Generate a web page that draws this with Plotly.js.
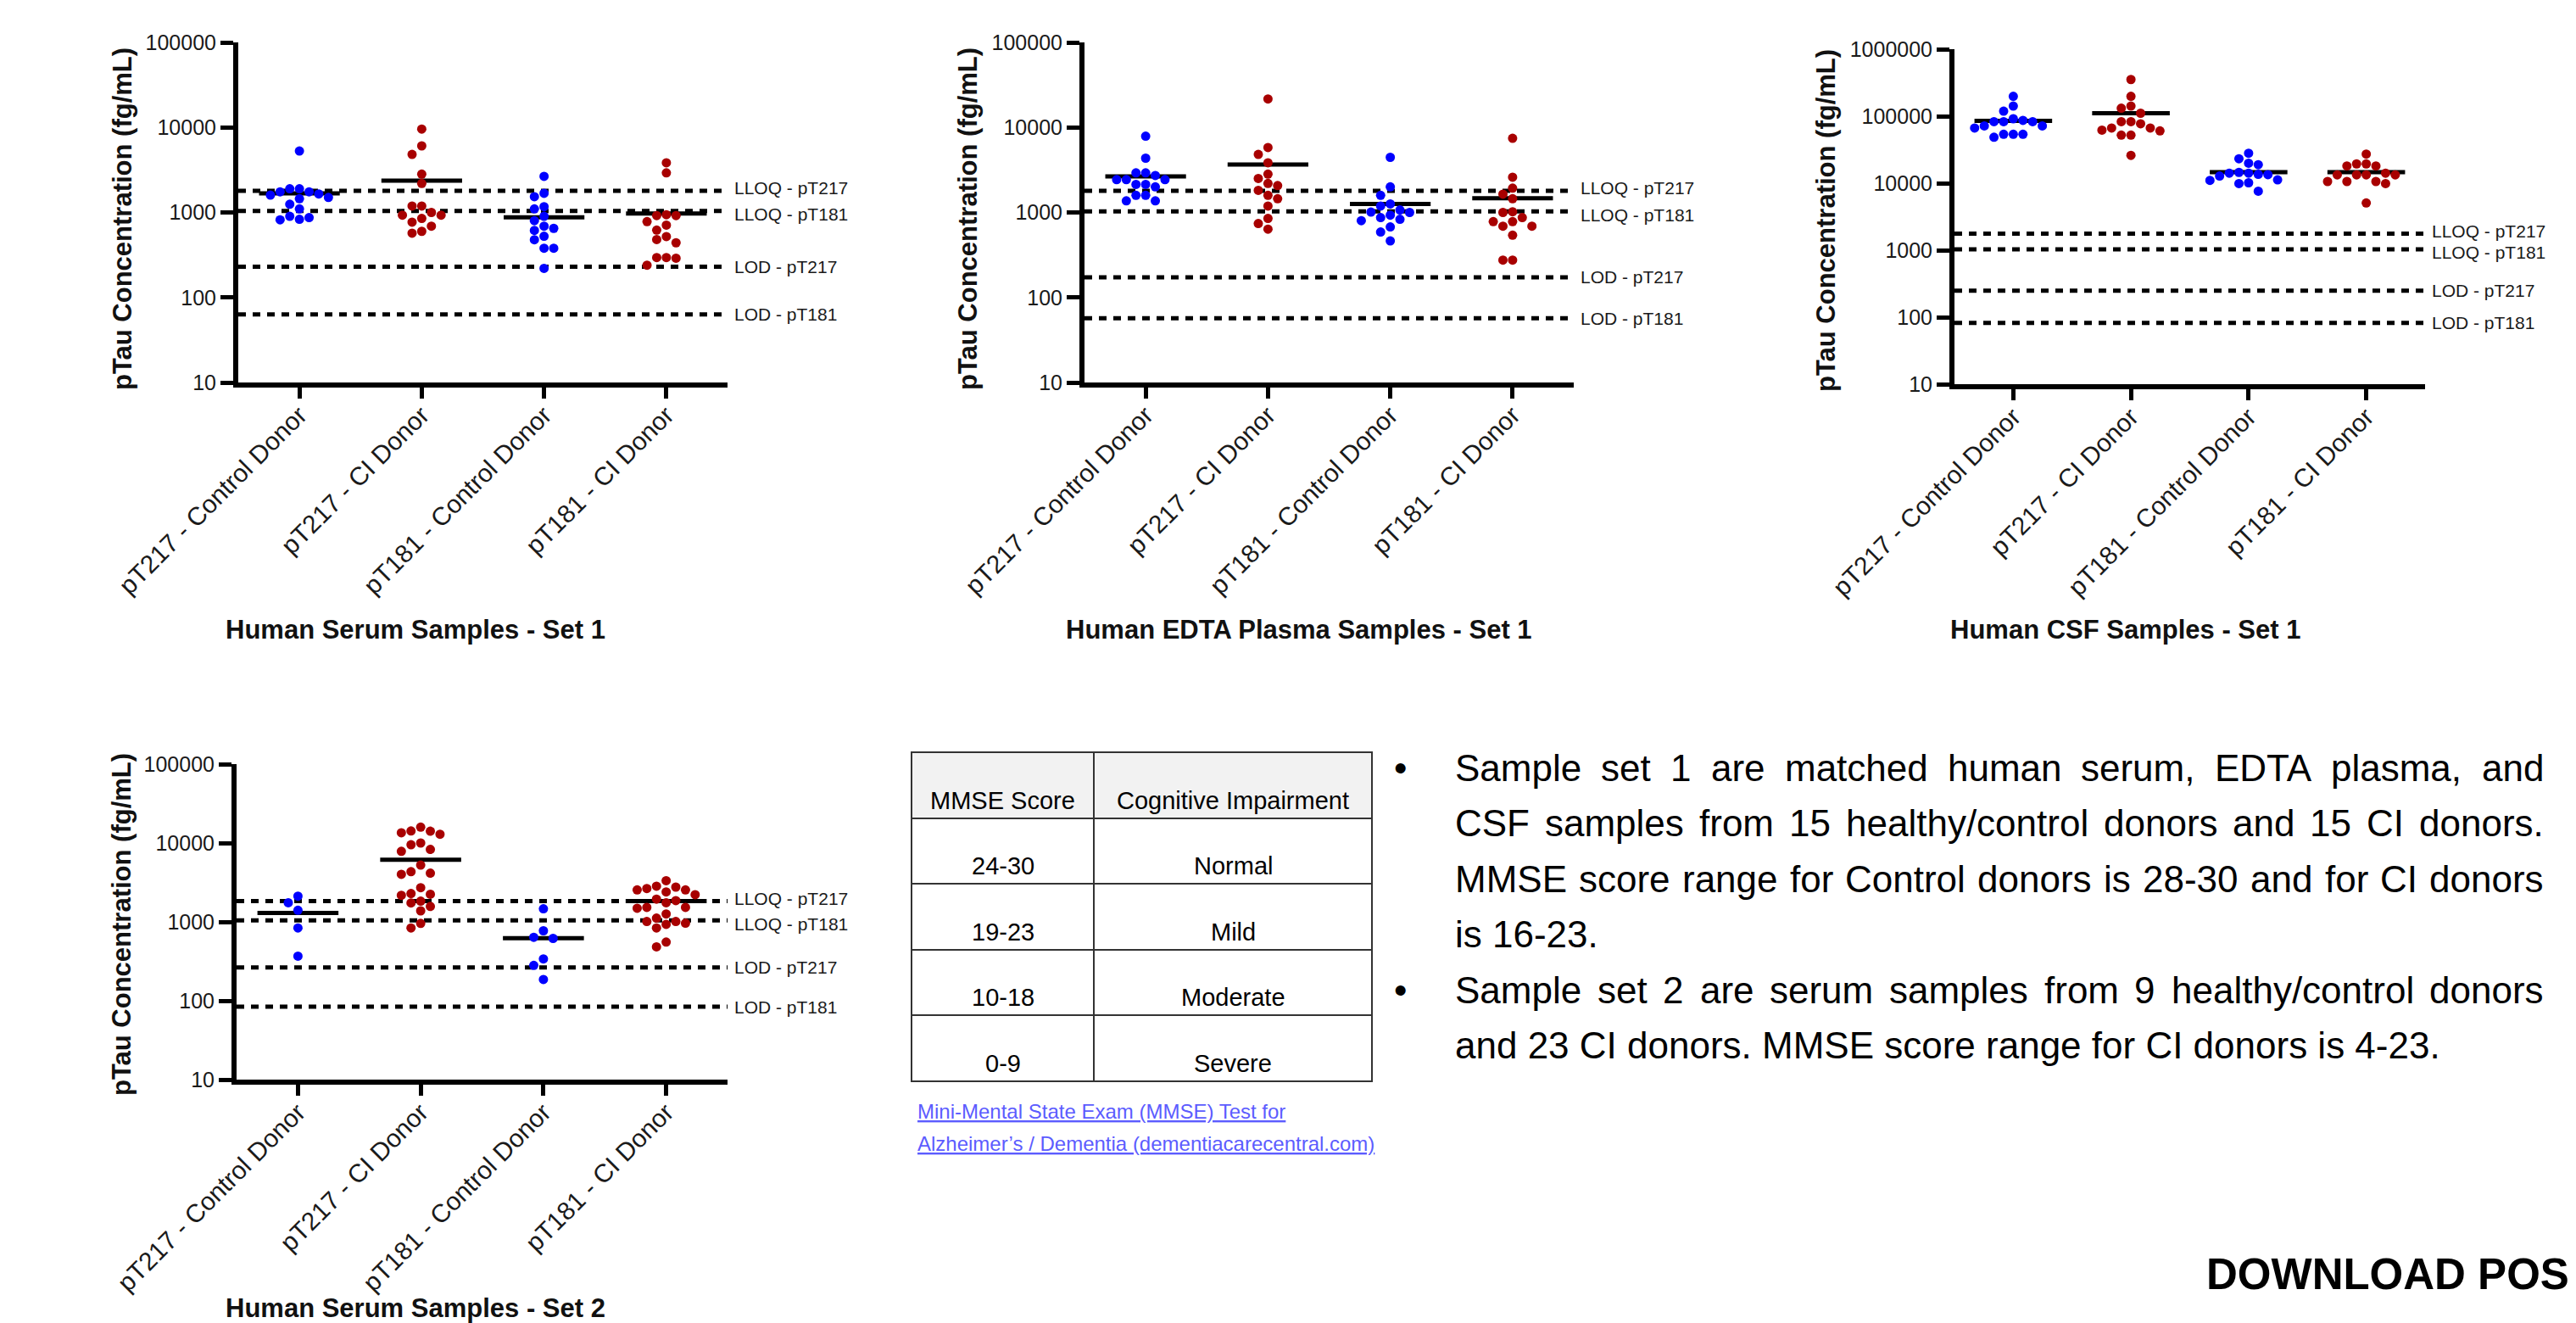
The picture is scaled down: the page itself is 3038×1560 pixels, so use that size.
<!DOCTYPE html>
<html><head><meta charset="utf-8">
<script src="https://cdn.plot.ly/plotly-3.0.1.min.js"></script>
<style>html,body{margin:0;padding:0;background:#fff;overflow:hidden}#chart{width:3038px;height:1560px}</style>
</head><body><div id="chart"></div>
<script>
// ---------------- DATA ----------------
const categories = ['pT217 - Control Donor', 'pT217 - CI Donor', 'pT181 - Control Donor', 'pT181 - CI Donor'];
const limitLabels = ['LLOQ - pT217', 'LLOQ - pT181', 'LOD - pT217', 'LOD - pT181'];
const yTicks5 = ['10', '100', '1000', '10000', '100000'];
const yTicks6 = ['10', '100', '1000', '10000', '100000', '1000000'];

// Human Serum Samples - Set 1
const serum1_pT217_control = [5280, 1900, 1900, 1750, 1750, 1650, 1600, 1500, 1450, 1250, 1100, 900, 870, 830, 820];
const serum1_pT217_ci      = [9570, 6070, 4820, 2820, 2190, 1190, 1190, 1000, 930, 930, 850, 770, 690, 600, 570];
const serum1_pT181_control = [2660, 1680, 1530, 1170, 1100, 900, 800, 690, 650, 615, 525, 477, 380, 380, 220];
const serum1_pT181_ci      = [3840, 2920, 940, 920, 920, 780, 710, 620, 520, 480, 440, 295, 295, 290, 240];
const serum1_means  = [1680, 2370, 877, 973];
const serum1_limits = [1800, 1040, 230, 63];

// Human EDTA Plasma Samples - Set 1
const plasma1_pT217_control = [7890, 4350, 2920, 2920, 2720, 2430, 2430, 2430, 2140, 2140, 2000, 1590, 1590, 1370, 1370];
const plasma1_pT217_ci      = [21600, 5800, 4820, 3840, 2820, 2510, 2190, 2070, 1820, 1590, 1450, 1190, 850, 740, 637];
const plasma1_pT181_control = [4450, 2000, 1590, 1260, 1190, 1070, 1010, 1000, 930, 870, 830, 800, 676, 589, 463];
const plasma1_pT181_ci      = [7450, 2600, 1930, 1640, 1450, 1020, 1000, 870, 780, 780, 690, 690, 540, 275, 275];
const plasma1_means  = [2660, 3660, 1260, 1470];
const plasma1_limits = [1800, 1030, 173, 57];

// Human CSF Samples - Set 1
const csf1_pT217_control = [197800, 141600, 119000, 91600, 86500, 82800, 82800, 82800, 71600, 71600, 66700, 53700, 53700, 53700, 48500];
const csf1_pT217_ci      = [352600, 197800, 141600, 131800, 110700, 82800, 82800, 77100, 66700, 66700, 62000, 60300, 52100, 52100, 26000];
const csf1_pT181_control = [28000, 23200, 19900, 18900, 14500, 14100, 14100, 13550, 13400, 12800, 11200, 11000, 10150, 9860, 7590];
const csf1_pT181_ci      = [27200, 19400, 19400, 18100, 18100, 14100, 13300, 13300, 13300, 13300, 10600, 10600, 10600, 9860, 5060];
const csf1_means  = [85400, 110700, 14600, 14600];
const csf1_limits = [1760, 1030, 249, 82];

// Human Serum Samples - Set 2
const serum2_pT217_control = [2120, 1750, 1405, 837, 368];
const serum2_pT217_ci      = [15900, 14200, 14100, 13500, 12900, 10000, 9500, 8300, 7850, 5250, 4330, 4150, 4010, 2710, 2290, 2240, 2170, 1830, 1740, 1570, 1380, 955, 836];
const serum2_pT181_control = [1465, 771, 638, 617, 339, 281, 186];
const serum2_pT181_ci      = [3330, 2830, 2760, 2650, 2540, 2540, 2400, 2210, 1940, 1860, 1750, 1525, 1525, 1490, 1260, 1117, 1012, 1012, 962, 931, 837, 555, 482];
const serum2_means  = [1294, 6140, 622, 1830];
const serum2_limits = [1830, 1047, 264, 84];

// MMSE table and text
const mmseHeader = ['MMSE Score', 'Cognitive Impairment'];
const mmseScores = ['24-30', '19-23', '10-18', '0-9'];
const mmseImpairment = ['Normal', 'Mild', 'Moderate', 'Severe'];
const linkLines = ["Mini-Mental State Exam (MMSE) Test for", "Alzheimer\u2019s / Dementia (dementiacarecentral.com)"];
const bullet1Lines = ['Sample set 1 are matched human serum, EDTA plasma, and', 'CSF samples from 15 healthy/control donors and 15 CI donors.', 'MMSE score range for Control donors is 28-30 and for CI donors', 'is 16-23.'];
const bullet2Lines = ['Sample set 2 are serum samples from 9 healthy/control donors', 'and 23 CI donors. MMSE score range for CI donors is 4-23.'];
const downloadText = 'DOWNLOAD POS';

// ---------------- LAYOUT HELPERS ----------------
const W = 3038, H = 1560;
const SANS = 'Liberation Sans, Arial, sans-serif';
const BLUE = '#0000ff', RED = '#a80000';
const px = v => v / W;
const py = v => 1 - v / H;

const panels = [
  {groups: [serum1_pT217_control, serum1_pT217_ci, serum1_pT181_control, serum1_pT181_ci], means: serum1_means, limits: serum1_limits,
   box: [281, 858, 50, 451], yr: [1, 5], ticks: yTicks5, xtitle: 'Human Serum Samples - Set 1', xt: [490, 742], yt: [145, 258]},
  {groups: [plasma1_pT217_control, plasma1_pT217_ci, plasma1_pT181_control, plasma1_pT181_ci], means: plasma1_means, limits: plasma1_limits,
   box: [1279, 1856, 50, 451], yr: [1, 5], ticks: yTicks5, xtitle: 'Human EDTA Plasma Samples - Set 1', xt: [1532, 742], yt: [1142, 258]},
  {groups: [csf1_pT217_control, csf1_pT217_ci, csf1_pT181_control, csf1_pT181_ci], means: csf1_means, limits: csf1_limits,
   box: [2305, 2860, 58, 453], yr: [1, 6], ticks: yTicks6, xtitle: 'Human CSF Samples - Set 1', xt: [2506, 742], yt: [2154, 260]},
  {groups: [serum2_pT217_control, serum2_pT217_ci, serum2_pT181_control, serum2_pT181_ci], means: serum2_means, limits: serum2_limits,
   box: [279, 858, 901, 1273], yr: [1, 5], ticks: yTicks5, xtitle: 'Human Serum Samples - Set 2', xt: [490, 1542], yt: [143, 1090]}
];

function swarm(vals, pxCat, pxDec) {
  const step = 11.4, d = 11;
  const order = vals.map((v, i) => i).sort((a, b) => vals[b] - vals[a]);
  const placed = [], off = new Array(vals.length).fill(0);
  for (const i of order) {
    const yp = Math.log10(vals[i]) * pxDec;
    for (let k = 0; k < 30; k++) {
      const col = k === 0 ? 0 : (k % 2 === 1 ? -(k + 1) / 2 : k / 2);
      const xp = col * step;
      if (placed.every(p => Math.hypot(p.x - xp, p.y - yp) >= d)) {
        placed.push({x: xp, y: yp}); off[i] = xp / pxCat; break;
      }
    }
  }
  return off;
}

const traces = [], annotations = [], shapes = [];
const layout = {
  width: W, height: H, margin: {l: 0, r: 0, t: 0, b: 0}, paper_bgcolor: '#fff', plot_bgcolor: 'rgba(0,0,0,0)',
  showlegend: false, font: {family: SANS, color: '#111'}, annotations, shapes
};

panels.forEach((p, idx) => {
  const n = idx === 0 ? '' : String(idx + 1);
  const xa = 'x' + n, ya = 'y' + n;
  const [x0, x1, y0, y1] = p.box;
  const pxCat = (x1 - x0) / 4, pxDec = (y1 - y0) / (p.yr[1] - p.yr[0]);
  layout['xaxis' + n] = {
    domain: [px(x0), px(x1)], anchor: ya, range: [-0.5, 3.5], tickmode: 'array', tickvals: [0, 1, 2, 3], ticktext: categories,
    tickangle: -45, ticks: 'outside', ticklen: 13, tickwidth: 5, tickcolor: '#000', showline: true, linewidth: 6, linecolor: '#000',
    ticklabelstandoff: -10,
    showgrid: false, zeroline: false, automargin: false, fixedrange: true, tickfont: {family: SANS, size: 30, color: '#1a1a1a'}
  };
  layout['yaxis' + n] = {
    domain: [py(y1), py(y0)], anchor: xa, type: 'log', range: p.yr, tickmode: 'array', tickvals: p.ticks.map(Number), ticktext: p.ticks,
    ticks: 'outside', ticklen: 15, tickwidth: 5, tickcolor: '#000', showline: true, linewidth: 6, linecolor: '#000',
    showgrid: false, zeroline: false, automargin: false, fixedrange: true, tickfont: {family: SANS, size: 25, color: '#1a1a1a'}
  };
  p.limits.forEach((v, j) => {
    traces.push({type: 'scatter', mode: 'lines', x: [-0.5, 3.5], y: [v, v], xaxis: xa, yaxis: ya, hoverinfo: 'skip',
      line: {color: '#000', width: 5, dash: '9px,8px'}});
    annotations.push({xref: 'paper', yref: ya, x: px(x1 + 6), y: Math.log10(v), xanchor: 'left', yanchor: 'middle',
      yshift: j === 0 ? 3 : (j === 1 ? -4 : 0), showarrow: false, text: limitLabels[j], font: {family: SANS, size: 21, color: '#1a1a1a'}});
  });
  p.means.forEach((m, j) => {
    traces.push({type: 'scatter', mode: 'lines', x: [j - 0.33, j + 0.33], y: [m, m], xaxis: xa, yaxis: ya, hoverinfo: 'skip',
      line: {color: '#000', width: 5}});
  });
  p.groups.forEach((g, j) => {
    const off = swarm(g, pxCat, pxDec);
    traces.push({type: 'scatter', mode: 'markers', x: g.map((v, i) => j + off[i]), y: g, xaxis: xa, yaxis: ya, cliponaxis: false,
      marker: {color: j % 2 === 0 ? BLUE : RED, size: 11, line: {width: 0}}});
  });
  annotations.push({xref: 'paper', yref: 'paper', x: px(p.xt[0]), y: py(p.xt[1]), xanchor: 'center', yanchor: 'middle', showarrow: false,
    text: '<b>' + p.xtitle + '</b>', font: {family: SANS, size: 31, color: '#111'}});
  annotations.push({xref: 'paper', yref: 'paper', x: px(p.yt[0]), y: py(p.yt[1]), xanchor: 'center', yanchor: 'middle', showarrow: false,
    textangle: -90, text: '<b>pTau Concentration (fg/mL)</b>', font: {family: SANS, size: 31, color: '#111'}});
});

// ---------------- TABLE ----------------
const rowY = [887, 965, 1042, 1120, 1197, 1275];
const colX = [1075, 1290, 1618];
for (let r = 0; r < 5; r++) {
  for (let c = 0; c < 2; c++) {
    shapes.push({type: 'rect', xref: 'paper', yref: 'paper', x0: px(colX[c]), x1: px(colX[c + 1]), y0: py(rowY[r + 1]), y1: py(rowY[r]),
      line: {color: '#333', width: 2}, fillcolor: r === 0 ? '#f2f2f2' : '#fff', layer: 'below'});
    const txt = r === 0 ? mmseHeader[c] : (c === 0 ? mmseScores[r - 1] : mmseImpairment[r - 1]);
    annotations.push({xref: 'paper', yref: 'paper', x: px((colX[c] + colX[c + 1]) / 2), y: py(rowY[r + 1] - 21), xanchor: 'center', yanchor: 'middle',
      showarrow: false, text: txt, font: {family: SANS, size: 29, color: '#000'}});
  }
}
linkLines.forEach((t, i) => {
  annotations.push({xref: 'paper', yref: 'paper', x: px(1080), y: py([1310, 1348][i]), xanchor: 'left', yanchor: 'middle', showarrow: false,
    text: '<u>' + t + '</u>', font: {family: SANS, size: 24, color: '#5c5cff'}});
});

// ---------------- BULLET TEXT (justified) ----------------
const BODY = 44;
const ctx = document.createElement('canvas').getContext('2d');
ctx.font = BODY + 'px "Liberation Sans", Arial, sans-serif';
const textL = 1715, textR = 2999, bulletX = 1651;
const lineY = [905, 970, 1036, 1101, 1167, 1232];
let li = 0;
[bullet1Lines, bullet2Lines].forEach(par => {
  annotations.push({xref: 'paper', yref: 'paper', x: px(bulletX), y: py(lineY[li]), xanchor: 'center', yanchor: 'middle', showarrow: false,
    text: '\u2022', font: {family: SANS, size: BODY, color: '#000'}});
  par.forEach((line, k) => {
    const y = py(lineY[li]);
    if (k === par.length - 1) {
      annotations.push({xref: 'paper', yref: 'paper', x: px(textL), y, xanchor: 'left', yanchor: 'middle', showarrow: false,
        text: line, font: {family: SANS, size: BODY, color: '#000'}, borderpad: 0});
    } else {
      const words = line.split(' ');
      const ws = words.map(w => ctx.measureText(w).width);
      const gap = (textR - textL - ws.reduce((a, b) => a + b, 0)) / (words.length - 1);
      let x = textL;
      words.forEach((w, i) => {
        annotations.push({xref: 'paper', yref: 'paper', x: px(x), y, xanchor: 'left', yanchor: 'middle', showarrow: false,
          text: w, font: {family: SANS, size: BODY, color: '#000'}, borderpad: 0});
        x += ws[i] + gap;
      });
    }
    li++;
  });
});

annotations.push({xref: 'paper', yref: 'paper', x: px(2601), y: py(1502), xanchor: 'left', yanchor: 'middle', showarrow: false,
  text: '<b>' + downloadText + '</b>', font: {family: SANS, size: 51, color: '#000'}, borderpad: 0});

Plotly.newPlot('chart', traces, layout, {staticPlot: true, displayModeBar: false});
</script></body></html>
